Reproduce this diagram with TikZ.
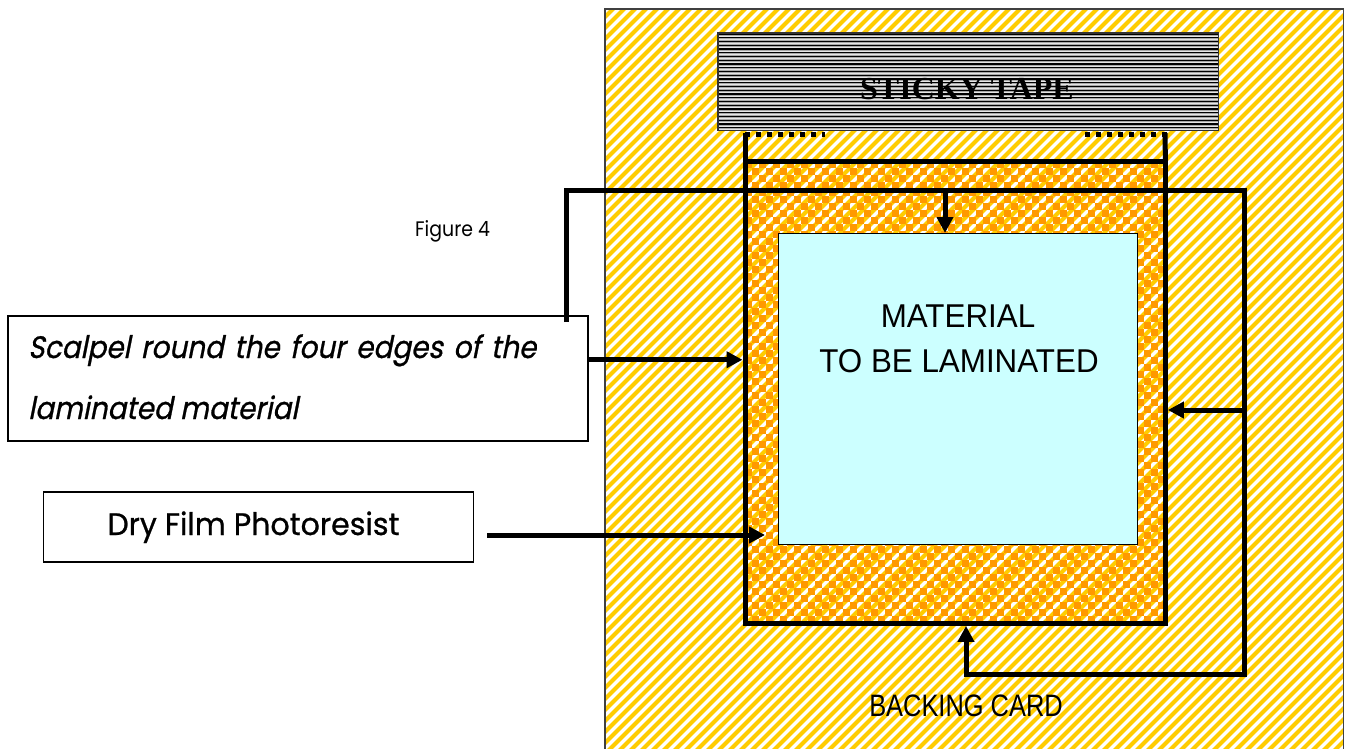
\documentclass[tikz,border=0pt]{standalone}
\usepackage{fontspec}
\setmainfont{Liberation Sans}
\newfontfamily\fut[FakeStretch=0.97,FakeBold=0.8]{Poppins}
\newfontfamily\futsmall[FakeStretch=0.9]{Poppins}
\newfontfamily\futit[FakeStretch=0.9,FakeSlant=0.2,FakeBold=0.8]{Poppins}
\newfontfamily\arn[FakeStretch=0.82]{Liberation Sans}
\newfontfamily\arm[FakeStretch=0.95]{Liberation Sans}
\newfontfamily\tms{Liberation Serif}
\usetikzlibrary{arrows.meta,calc}
\definecolor{stripeY}{HTML}{FFCC00}
\definecolor{checkO}{HTML}{FF9900}
\definecolor{matC}{HTML}{CCFFFF}
\definecolor{tapeG}{HTML}{A8A8A8}
\begin{document}
\begin{tikzpicture}[x=1pt,y=-1pt,
  conn/.style={line width=5pt, line join=miter, -{Triangle[length=16pt,width=16pt]}},
  plainline/.style={line width=5pt, line join=miter},
  boxnode/.style={rectangle, draw=black, line width=1.5pt, fill=white, anchor=north west, inner sep=0pt},
  txt/.style={inner sep=0pt, anchor=base}]
\useasboundingbox (0,0) rectangle (1346,749);
\fill[white] (0,0) rectangle (1346,749);

% backing card
\node[rectangle, anchor=north west, inner sep=0pt, minimum width=738pt, minimum height=745pt] (card) at (605,9) {};
\begin{scope}
  \clip (card.north west) rectangle (card.south east);
  \foreach \c in {600,611,...,2110}
    \draw[stripeY, line width=4pt] (\c,0) -- (\c-770,770);
\end{scope}
\draw[black!75, line width=1.2pt] (card.south west) -- (card.north west) -- (card.north east) -- (card.south east);

% sticky tape
\node[rectangle, anchor=north west, inner sep=0pt, minimum width=500pt, minimum height=97pt, fill=tapeG] (tape) at (718,33) {};
\begin{scope}
  \clip (tape.north west) rectangle (tape.south east);
  \foreach \k in {0,...,26}{
    \draw[black, line width=1.1pt] (718,34+3.75*\k) -- (1218,34+3.75*\k);
    \draw[white!90!black, line width=0.7pt] (718,35.9+3.75*\k) -- (1218,35.9+3.75*\k);
  }
\end{scope}
\draw[black!80, line width=1.2pt] (tape.north west) rectangle (tape.south east);
\node[txt, font=\tms\bfseries\fontsize{32}{36}\selectfont] (tapetxt) at (967,100) {STICKY TAPE};

% dry film (checker)
\node[rectangle, anchor=north west, inner sep=0pt, minimum width=420pt, minimum height=462pt] (film) at (745,161) {};
\begin{scope}
  \clip (film.north west) rectangle (film.south east);
  \foreach \j in {0,...,65}{
    \pgfmathtruncatemacro\off{mod(\j,2)}
    \foreach \k in {0,...,29}
      \fill[checkO] (745+7*2*\k+7*\off, 161+7*\j) rectangle ++(7,7);
  }
\end{scope}
\draw[plainline] (film.north west) rectangle (film.south east);
\coordinate (filmTL) at (745,133);
\coordinate (filmTR) at (1165,133);
\draw[plainline] (film.north west) -- (filmTL);
\draw[plainline] (film.north east) -- (filmTR);
\coordinate (dotL1) at (745,135);
\coordinate (dotL2) at (825,135);
\coordinate (dotR1) at (1085,135);
\coordinate (dotR2) at (1167,135);
\draw[line width=5pt, dash pattern=on 5pt off 6pt] (dotL1) -- (dotL2);
\draw[line width=5pt, dash pattern=on 5pt off 6pt] (dotR2) -- (dotR1);

% material
\node[rectangle, draw=black, line width=1.3pt, fill=matC, anchor=north west, inner sep=0pt, minimum width=359pt, minimum height=311pt] (mat) at (778,233) {};
\node[txt, font=\arm\fontsize{33}{38}\selectfont] (mat1) at (958,327) {MATERIAL};
\node[txt, font=\arm\fontsize{33}{38}\selectfont] (mat2) at (959,372) {TO BE LAMINATED};

% backing card label
\node[txt, font=\arn\fontsize{31}{36}\selectfont] (cardtxt) at (966,716) {BACKING CARD};

% boxes on the left
\node[boxnode, minimum width=580pt, minimum height=125pt] (scal) at (7,315) {};
\node[txt, anchor=base west, font=\futit\fontsize{31}{36}\selectfont] (scal1) at (28,358)
  {\makebox[508pt][s]{Scalpel round the four edges of the}};
\node[txt, anchor=base west, font=\futit\fontsize{31}{36}\selectfont] (scal2) at (28,419) {laminated material};

\node[boxnode, minimum width=430pt, minimum height=70pt] (dry) at (42.5,491) {};
\node[txt, font=\fut\fontsize{31}{36}\selectfont] (drytxt) at (253.5,535) {Dry Film Photoresist};

\node[txt, anchor=base west, font=\futsmall\fontsize{21}{25}\selectfont] (fig) at (415,236) {Figure 4};

% connectors
\coordinate (mainS) at (566,322);
\coordinate (mainA) at (566,190);
\coordinate (mainB) at (1244,190);
\coordinate (mainC) at (1244,674);
\coordinate (mainD) at (966,674);
\coordinate (mainE) at ($(film.south)+(0,2.5)$);
\draw[conn] (mainS) -- (mainA) -- (mainB) -- (mainC) -- (mainD) -- (mainD |- mainE);

\coordinate (downS) at (945,190);
\draw[conn] (downS) -- (downS |- mat.north);

\coordinate (rightS) at (1244,410);
\coordinate (rightE) at ($(film.east)+(2.5,0)$);
\draw[conn] (rightS) -- (rightS -| rightE);

\coordinate (scalS) at ($(scal.east)+(0,-18.5)$);
\coordinate (filmW) at ($(film.west)+(-2.5,0)$);
\draw[conn] (scalS) -- (scalS -| filmW);

\coordinate (dryS) at (487,535);
\coordinate (dryE) at (765,535);
\draw[conn] (dryS) -- (dryE);
\end{tikzpicture}
\end{document}
